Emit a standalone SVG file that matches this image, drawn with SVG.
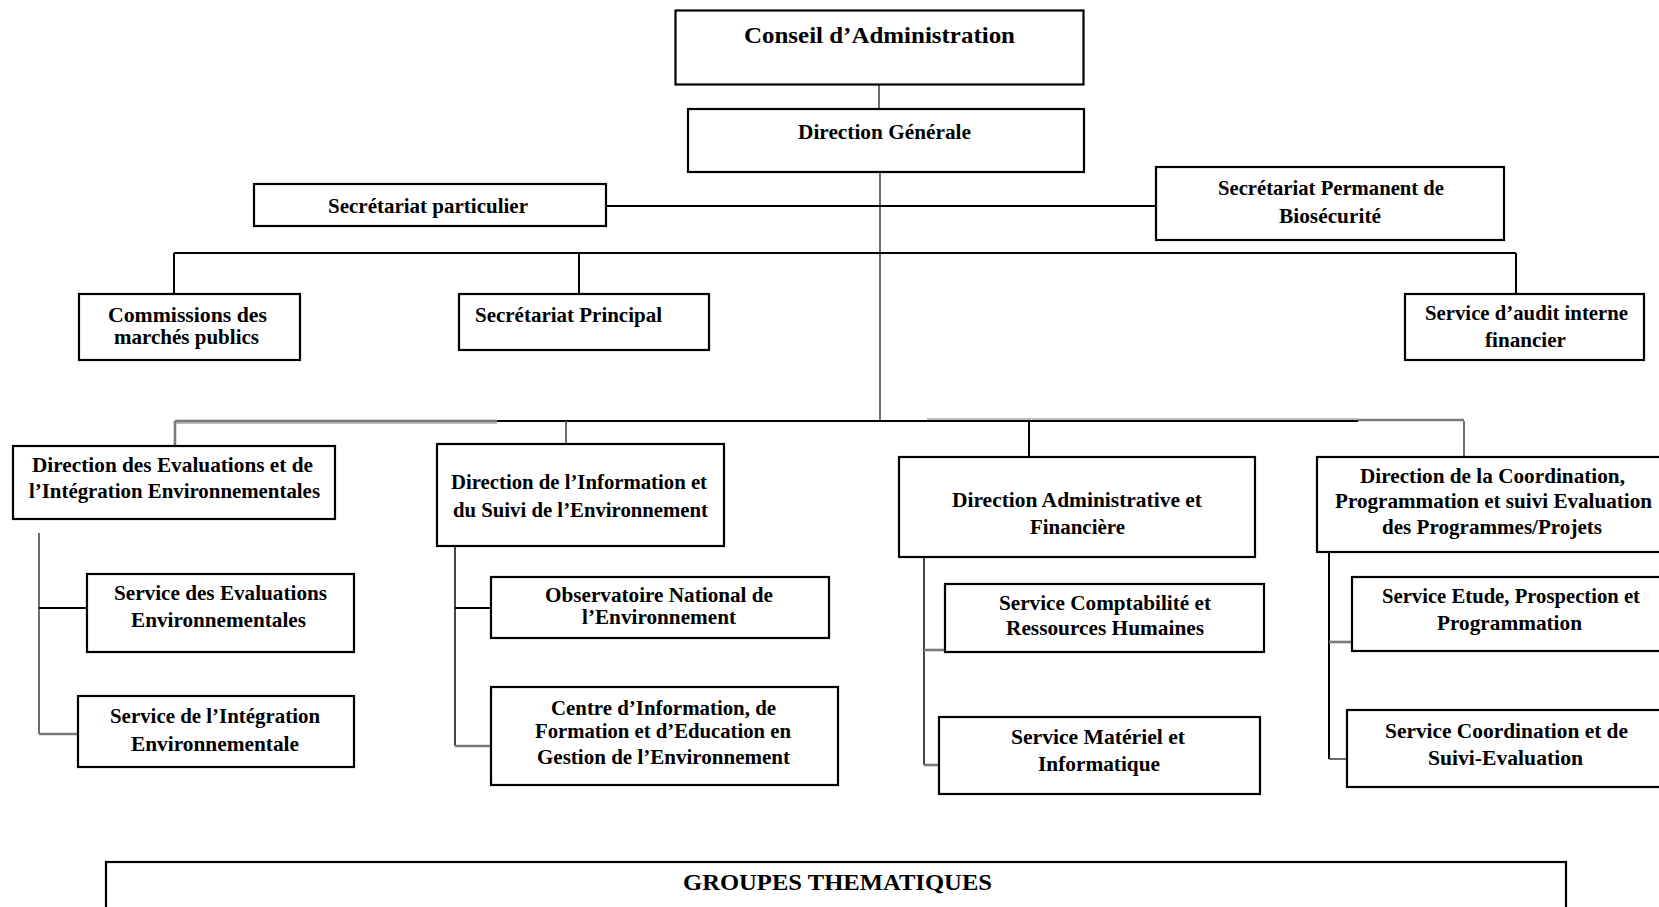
<svg xmlns="http://www.w3.org/2000/svg" width="1659" height="907" viewBox="0 0 1659 907">
  <style>
    .box { fill: #ffffff; stroke: #000000; stroke-width: 2.2; }
    .t { font-family: "Liberation Serif", "Times New Roman", serif; font-weight: bold; font-size: 21px; fill: #000000; }
    .big { font-size: 24px; }
    .k { stroke: #000000; stroke-width: 2; fill: none; }
    .kt { stroke: #1a1a1a; stroke-width: 1.6; fill: none; }
    .g { stroke: #7a7a7a; stroke-width: 2.6; fill: none; }
    .gl { stroke: #bdbdbd; stroke-width: 2; fill: none; }
    .gd { stroke: #5e5e5e; stroke-width: 1.8; fill: none; }
  </style>
  <rect width="1659" height="907" fill="#ffffff"/>

  <!-- connectors -->
  <g id="connectors">
    <line class="gd" x1="879" y1="84" x2="879" y2="109"/>
    <line class="gd" x1="880" y1="172" x2="880" y2="421"/>
    <line class="k" x1="606" y1="206" x2="1156" y2="206"/>
    <line class="k" x1="174" y1="253" x2="1516" y2="253"/>
    <line class="k" x1="174" y1="253" x2="174" y2="294"/>
    <line class="k" x1="579" y1="253" x2="579" y2="294"/>
    <line class="k" x1="1516" y1="253" x2="1516" y2="294"/>
    <!-- lower bus -->
    <line class="gl" x1="175" y1="423" x2="497" y2="423"/>
    <line class="g" x1="175" y1="421" x2="497" y2="421"/>
    <line class="k" x1="497" y1="421" x2="927" y2="421"/>
    <line class="gl" x1="927" y1="419" x2="1358" y2="419"/>
    <line class="k" x1="927" y1="421" x2="1358" y2="421"/>
    <line class="g" x1="1358" y1="420" x2="1464" y2="420"/>
    <line class="g" x1="175" y1="421" x2="175" y2="446"/>
    <line class="gd" x1="566" y1="421" x2="566" y2="444"/>
    <line class="k" x1="1029" y1="421" x2="1029" y2="457"/>
    <line class="gd" x1="1464" y1="421" x2="1464" y2="457"/>
    <!-- Direction des Evaluations -->
    <line class="gd" x1="39" y1="533" x2="39" y2="734"/>
    <line class="k" x1="39" y1="608" x2="87" y2="608"/>
    <line class="g" x1="39" y1="734" x2="78" y2="734"/>
    <!-- Direction de l'Information -->
    <line class="kt" x1="455" y1="542" x2="455" y2="746"/>
    <line class="k" x1="455" y1="608" x2="491" y2="608"/>
    <line class="g" x1="455" y1="746" x2="491" y2="746"/>
    <!-- Direction Administrative -->
    <line class="kt" x1="924" y1="557" x2="924" y2="765"/>
    <line class="g" x1="924" y1="650" x2="945" y2="650"/>
    <line class="g" x1="924" y1="765" x2="939" y2="765"/>
    <!-- Direction de la Coordination -->
    <line class="k" x1="1329" y1="552" x2="1329" y2="759"/>
    <line class="g" x1="1329" y1="642" x2="1352" y2="642"/>
    <line class="gd" x1="1329" y1="759" x2="1347" y2="759"/>
  </g>

  <g id="conseil">
    <rect class="box" x="675.5" y="10.5" width="408" height="74"/>
    <text class="t big" x="744" y="43" textLength="271" lengthAdjust="spacingAndGlyphs">Conseil d’Administration</text>
  </g>
  <g id="direction-generale">
    <rect class="box" x="688" y="109" width="396" height="63"/>
    <text class="t" x="798" y="139" textLength="173" lengthAdjust="spacingAndGlyphs">Direction Générale</text>
  </g>
  <g id="secretariat-particulier">
    <rect class="box" x="254" y="184" width="352" height="42"/>
    <text class="t" x="328" y="213" textLength="200" lengthAdjust="spacingAndGlyphs">Secrétariat particulier</text>
  </g>
  <g id="secretariat-permanent">
    <rect class="box" x="1156" y="167" width="348" height="73"/>
    <text class="t" x="1218" y="195" textLength="226" lengthAdjust="spacingAndGlyphs">Secrétariat Permanent de</text>
    <text class="t" x="1279" y="223" textLength="102" lengthAdjust="spacingAndGlyphs">Biosécurité</text>
  </g>
  <g id="commissions">
    <rect class="box" x="79" y="294" width="221" height="66"/>
    <text class="t" x="108" y="322" textLength="159" lengthAdjust="spacingAndGlyphs">Commissions des</text>
    <text class="t" x="114" y="344" textLength="145" lengthAdjust="spacingAndGlyphs">marchés publics</text>
  </g>
  <g id="secretariat-principal">
    <rect class="box" x="459" y="294" width="250" height="56"/>
    <text class="t" x="475" y="322" textLength="187" lengthAdjust="spacingAndGlyphs">Secrétariat Principal</text>
  </g>
  <g id="audit">
    <rect class="box" x="1405" y="294" width="239" height="66"/>
    <text class="t" x="1425" y="320" textLength="203" lengthAdjust="spacingAndGlyphs">Service d’audit interne</text>
    <text class="t" x="1485" y="347" textLength="81" lengthAdjust="spacingAndGlyphs">financier</text>
  </g>

  <g id="direction-evaluations">
    <rect class="box" x="13" y="446" width="322" height="73"/>
    <text class="t" x="32" y="472" textLength="281" lengthAdjust="spacingAndGlyphs">Direction des Evaluations et de</text>
    <text class="t" x="29" y="498" textLength="291" lengthAdjust="spacingAndGlyphs">l’Intégration Environnementales</text>
  </g>
  <g id="direction-information">
    <rect class="box" x="437" y="444" width="287" height="102"/>
    <text class="t" x="451" y="489" textLength="256" lengthAdjust="spacingAndGlyphs">Direction de l’Information et</text>
    <text class="t" x="453" y="517" textLength="255" lengthAdjust="spacingAndGlyphs">du Suivi de l’Environnement</text>
  </g>
  <g id="direction-administrative">
    <rect class="box" x="899" y="457" width="356" height="100"/>
    <text class="t" x="952" y="507" textLength="250" lengthAdjust="spacingAndGlyphs">Direction Administrative et</text>
    <text class="t" x="1030" y="534" textLength="95" lengthAdjust="spacingAndGlyphs">Financière</text>
  </g>
  <g id="direction-coordination">
    <rect class="box" x="1317" y="457" width="360" height="95"/>
    <text class="t" x="1360" y="483" textLength="265" lengthAdjust="spacingAndGlyphs">Direction de la Coordination,</text>
    <text class="t" x="1335" y="508" textLength="317" lengthAdjust="spacingAndGlyphs">Programmation et suivi Evaluation</text>
    <text class="t" x="1382" y="534" textLength="220" lengthAdjust="spacingAndGlyphs">des Programmes/Projets</text>
  </g>

  <g id="service-evaluations">
    <rect class="box" x="87" y="574" width="267" height="78"/>
    <text class="t" x="114" y="600" textLength="213" lengthAdjust="spacingAndGlyphs">Service des Evaluations</text>
    <text class="t" x="131" y="627" textLength="175" lengthAdjust="spacingAndGlyphs">Environnementales</text>
  </g>
  <g id="service-integration">
    <rect class="box" x="78" y="696" width="276" height="71"/>
    <text class="t" x="110" y="723" textLength="210" lengthAdjust="spacingAndGlyphs">Service de l’Intégration</text>
    <text class="t" x="131" y="751" textLength="168" lengthAdjust="spacingAndGlyphs">Environnementale</text>
  </g>
  <g id="observatoire">
    <rect class="box" x="491" y="577" width="338" height="61"/>
    <text class="t" x="545" y="602" textLength="228" lengthAdjust="spacingAndGlyphs">Observatoire National de</text>
    <text class="t" x="582" y="624" textLength="154" lengthAdjust="spacingAndGlyphs">l’Environnement</text>
  </g>
  <g id="centre-information">
    <rect class="box" x="491" y="687" width="347" height="98"/>
    <text class="t" x="551" y="715" textLength="225" lengthAdjust="spacingAndGlyphs">Centre d’Information, de</text>
    <text class="t" x="535" y="738" textLength="256" lengthAdjust="spacingAndGlyphs">Formation et d’Education en</text>
    <text class="t" x="537" y="764" textLength="253" lengthAdjust="spacingAndGlyphs">Gestion de l’Environnement</text>
  </g>
  <g id="service-comptabilite">
    <rect class="box" x="945" y="584" width="319" height="68"/>
    <text class="t" x="999" y="610" textLength="212" lengthAdjust="spacingAndGlyphs">Service Comptabilité et</text>
    <text class="t" x="1006" y="635" textLength="198" lengthAdjust="spacingAndGlyphs">Ressources Humaines</text>
  </g>
  <g id="service-materiel">
    <rect class="box" x="939" y="717" width="321" height="77"/>
    <text class="t" x="1011" y="744" textLength="174" lengthAdjust="spacingAndGlyphs">Service  Matériel et</text>
    <text class="t" x="1038" y="771" textLength="122" lengthAdjust="spacingAndGlyphs">Informatique</text>
  </g>
  <g id="service-etude">
    <rect class="box" x="1352" y="577" width="320" height="74"/>
    <text class="t" x="1382" y="603" textLength="258" lengthAdjust="spacingAndGlyphs">Service Etude, Prospection et</text>
    <text class="t" x="1437" y="630" textLength="145" lengthAdjust="spacingAndGlyphs">Programmation</text>
  </g>
  <g id="service-coordination">
    <rect class="box" x="1347" y="710" width="325" height="77"/>
    <text class="t" x="1385" y="738" textLength="243" lengthAdjust="spacingAndGlyphs">Service  Coordination et de</text>
    <text class="t" x="1428" y="765" textLength="155" lengthAdjust="spacingAndGlyphs">Suivi-Evaluation</text>
  </g>

  <g id="groupes-thematiques">
    <rect class="box" x="106" y="862" width="1460" height="60"/>
    <text class="t big" x="683" y="890" textLength="309" lengthAdjust="spacingAndGlyphs">GROUPES THEMATIQUES</text>
  </g>
</svg>
